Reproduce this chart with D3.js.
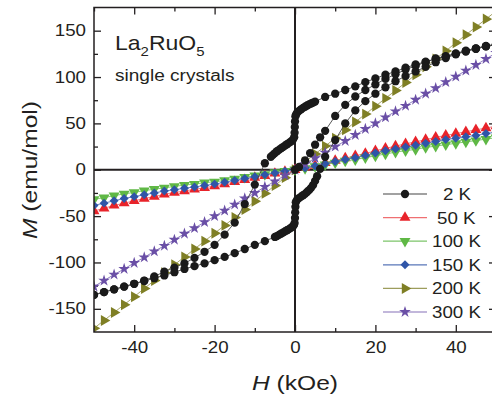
<!DOCTYPE html>
<html><head><meta charset="utf-8">
<script src="https://cdn.jsdelivr.net/npm/d3@7"></script>
<style>
body{margin:0;background:#fff}
svg{display:block}
text{font-family:"Liberation Sans",Arial,Helvetica,sans-serif;fill:#231f20}
</style>
</head><body>
<svg id="c" width="492" height="398"></svg>
<script>
// ---------- data ----------
const hGrid = [-50,-47.5,-45,-42.5,-40,-37.5,-35,-32.5,-30,-27.5,-25,-22.5,-20,-17.5,-15,-12.5,-10,-7.5,-5,-2.5,0,
  2.5,5,7.5,10,12.5,15,17.5,20,22.5,25,27.5,30,32.5,35,37.5,40,42.5,45,47.5,50];
const m50K  = [-44.5,-41.5,-38.5,-36,-33.5,-31,-29,-26.5,-24.5,-23,-21,-19.5,-17.5,-15.5,-13,-11,-8.5,-6.5,-4,-2,0,
  2.5,4.5,7.5,10,12.5,15,17.5,20.5,23,25.5,28,30,32.5,35,37,39,41,43,45,47];
const m100K = [-32,-30,-28,-26,-24.5,-22.5,-21,-19.5,-18,-16.5,-15.5,-14,-13,-11.5,-10,-8,-6.5,-5,-3,-1.5,0,
  1.5,3.5,5.5,7.5,9.5,11,13,15,17,19,20.5,22,24,25.5,27,28.5,30,31.5,33,34.5];
const m150K = [-38.5,-36,-33.5,-31,-29,-27,-25,-23,-21.5,-20,-18.5,-17,-15.5,-13.5,-11.5,-9.5,-7.5,-5.5,-3.5,-1.5,0,
  2,4,6.5,9,11,13,15.5,18,20.5,22.5,24.5,26.5,28.5,30.5,32.5,34,35.5,37,39,40.5];
const m200K = [-171,-162.5,-154,-145.5,-137,-128,-119.5,-111,-102.5,-94,-85.5,-77,-68.5,-60,-51.5,-43,-34,-25.5,-17,-8.5,0,
  8.5,17,25.5,34,43,51.5,60,68.5,77,85.5,94,102.5,111,119.5,128,137,145.5,154,162.5,171];
const m300K = [-126,-119.5,-113,-107,-100.5,-94.5,-88,-82,-75.5,-69,-63,-56.5,-50,-44,-37.5,-31,-25,-18.5,-12.5,-6,0,
  6,12.5,18.5,25,31,37.5,44,50,56.5,63,69,75.5,82,88,94.5,100.5,107,113,119.5,126];

// 2 K: virgin curve, descending branch, ascending branch
const h2KVirgin = [0,1,2.5,3.75,5,6.25,7.5,10,12.5,15,17.5,20,22.5,25,27.5,30,32.5,35,37.5,40,42.5,45,47.5,50];
const m2KVirgin = [0,3,10,18,27,35,42,58,70,79,86,92,98,103,108,112,116,120,122.5,125.5,128.5,131,133.5,135.5];
const h2KDown = [50,47.5,45,42.5,40,37.5,35,32.5,30,27.5,25,22.5,20,17.5,15,12.5,10,7.5,5,4.5,4,3.5,3,2.5,2,1.5,1,0.5,0.25,0.1,
  0,-0.05,-0.1,-0.2,-0.5,-1,-1.5,-2,-2.5,-3,-3.5,-4,-4.5,-5,-5.5,-6,-7.5,-10,-12.5,-15,-17.5,-20,-22.5,-25,-27.5,-30,-32.5,-35,-37.5,-40,-42.5,-45,-47.5,-50];
const m2KDown = [135,133,130.5,128,125,122,119.5,116.5,113.5,110,106,102.5,98.5,94.5,90,86,82,78.5,73.5,72.5,71.5,70.5,69.3,68,66.7,65.2,63.5,61.3,59.5,57.5,
  52,46,40,35,32.5,30.5,29,27.5,26,24.5,23,21.5,20,18,16,14,7,-16,-37,-57,-70,-81,-88.5,-95,-101,-105.5,-110,-115,-119.5,-123,-126,-129,-132,-135];
const h2KUp = [-50,-47.5,-45,-42.5,-40,-37.5,-35,-32.5,-30,-27.5,-25,-22.5,-20,-17.5,-15,-12.5,-10,-7.5,-5,-4.5,-4,-3.5,-3,-2.5,-2,-1.5,-1,-0.5,-0.25,-0.1,
  0,0.05,0.1,0.2,0.5,1,1.5,2,2.5,3,3.5,4,4.5,5,5.5,6.25,7.5,10,12.5,15,17.5,20,22.5,25,27.5,30,32.5,35,37.5,40,42.5,45,47.5,50];
const m2KUp = [-135,-132,-129,-126,-123,-120,-117,-114,-110.5,-107,-104,-101,-97.5,-94,-90,-85.5,-81,-77,-72.5,-71.5,-70.3,-69,-67.8,-66.5,-65.2,-64,-62.5,-61,-59.5,-57.5,
  -52,-46,-40,-35,-32.5,-30.5,-29,-27.5,-26,-24,-22,-19.5,-16.5,-12,-7,1,14,32,50,64,74,82,89,95.5,101,106,111,116,120.5,124.5,127.5,130.5,133,135];

const legendLabels = ["2 K","50 K","100 K","150 K","200 K","300 K"];
const xTicks = [-40,-20,0,20,40];
const xMinor = [-50,-30,-10,10,30,50];
const yTicks = [-150,-100,-50,0,50,100,150];
const yMinor = [-125,-75,-25,25,75,125];

// ---------- layout ----------
const svg = d3.select('#c');
const L = 94, R = 496, T = 7.5, B = 332;
const x = d3.scaleLinear().domain([-50, 50]).range([L, R]);
const y = d3.scaleLinear().domain([-175, 175]).range([B, T]);
const ink = '#231f20';
const SX = 1.17; // horizontal text stretch of the original
const fmt = d => String(d); // plain hyphen-minus as in the original

function stretch(sel, k) {
  sel.each(function () {
    const w = this.getComputedTextLength();
    if (w > 0) { this.setAttribute('textLength', w * k); this.setAttribute('lengthAdjust', 'spacingAndGlyphs'); }
  });
}

svg.append('defs').append('clipPath').attr('id', 'clip')
  .append('rect').attr('x', L).attr('y', T).attr('width', R - L).attr('height', B - T);

// axes
function styleAxis(g) {
  g.attr('color', ink).attr('font-size', 16).attr('font-family', '"Liberation Sans",Arial,sans-serif');
  g.select('.domain').remove();
  g.selectAll('line').attr('stroke-width', 1.3);
}
const gl = svg.append('g').attr('transform', `translate(${L},0)`)
  .call(d3.axisLeft(y).tickValues(yTicks).tickFormat(fmt).tickSizeInner(-7).tickSizeOuter(0).tickPadding(8)).call(styleAxis);
gl.selectAll('text').call(stretch, SX);
svg.append('g').attr('transform', `translate(${L},0)`)
  .call(d3.axisLeft(y).tickValues(yMinor).tickSizeInner(-4).tickSizeOuter(0).tickFormat('')).call(styleAxis);
svg.append('g').attr('transform', `translate(${R},0)`)
  .call(d3.axisRight(y).tickValues(yTicks).tickSizeInner(-7).tickSizeOuter(0).tickFormat('')).call(styleAxis);
svg.append('g').attr('transform', `translate(${R},0)`)
  .call(d3.axisRight(y).tickValues(yMinor).tickSizeInner(-4).tickSizeOuter(0).tickFormat('')).call(styleAxis);
const gb = svg.append('g').attr('transform', `translate(0,${B})`)
  .call(d3.axisBottom(x).tickValues(xTicks).tickFormat(fmt).tickSizeInner(-7).tickSizeOuter(0).tickPadding(10)).call(styleAxis);
gb.selectAll('text').call(stretch, SX);
svg.append('g').attr('transform', `translate(0,${B})`)
  .call(d3.axisBottom(x).tickValues(xMinor).tickSizeInner(-4).tickSizeOuter(0).tickFormat('')).call(styleAxis);
svg.append('g').attr('transform', `translate(0,${T})`)
  .call(d3.axisTop(x).tickValues(xTicks).tickSizeInner(-7).tickSizeOuter(0).tickFormat('')).call(styleAxis);
svg.append('g').attr('transform', `translate(0,${T})`)
  .call(d3.axisTop(x).tickValues(xMinor).tickSizeInner(-4).tickSizeOuter(0).tickFormat('')).call(styleAxis);

// series
const plot = svg.append('g').attr('clip-path', 'url(#clip)');
const line = d3.line().x(d => x(d[0])).y(d => y(d[1]));
const zip = (hs, ms) => hs.map((h, i) => [h, ms[i]]);

const series = [
  { label: legendLabels[1], pts: [zip(hGrid, m50K)],  color: '#e8232a', lc: '#ef6f72', sym: d3.symbolTriangle, size: 52, rot: 0 },
  { label: legendLabels[2], pts: [zip(hGrid, m100K)], color: '#5fb845', lc: '#7cc56a', sym: d3.symbolTriangle, size: 52, rot: 180 },
  { label: legendLabels[3], pts: [zip(hGrid, m150K)], color: '#2f55a8', lc: '#5876b8', sym: d3.symbolSquare, size: 40, rot: 45 },
  { label: legendLabels[4], pts: [zip(hGrid, m200K)], color: '#7f7f25', lc: '#9d9d5c', sym: d3.symbolTriangle, size: 52, rot: 90 },
  { label: legendLabels[5], pts: [zip(hGrid, m300K)], color: '#6a4fa6', lc: '#8570b8', sym: d3.symbolStar, size: 42, rot: 0 },
  { label: legendLabels[0], pts: [zip(h2KVirgin, m2KVirgin), zip(h2KDown, m2KDown), zip(h2KUp, m2KUp)], color: '#1a1a1a', lc: '#444', sym: d3.symbolCircle, size: 54, rot: 0 }
];

// zero lines
plot.append('line').attr('x1', x(0)).attr('x2', x(0)).attr('y1', T).attr('y2', B).attr('stroke', ink).attr('stroke-width', 2);
plot.append('line').attr('x1', L).attr('x2', R).attr('y1', y(0)).attr('y2', y(0)).attr('stroke', ink).attr('stroke-width', 2);

series.forEach(s => {
  const g = plot.append('g');
  s.pts.forEach(p => {
    g.append('path').attr('d', line(p)).attr('fill', 'none').attr('stroke', s.lc).attr('stroke-width', 0.9);
  });
  const sym = d3.symbol().type(s.sym).size(s.size)();
  s.pts.forEach(p => {
    g.selectAll(null).data(p).join('path')
      .attr('d', sym)
      .attr('transform', d => `translate(${x(d[0])},${y(d[1])}) rotate(${s.rot})`)
      .attr('fill', s.color);
  });
});

// frame
svg.append('rect').attr('x', L).attr('y', T).attr('width', R - L).attr('height', B - T)
  .attr('fill', 'none').attr('stroke', ink).attr('stroke-width', 1.5);

// legend
const legOrder = [5, 0, 1, 2, 3, 4];
const legX = [443, 437, 432, 432, 432, 432];
legOrder.forEach((si, i) => {
  const s = series[si];
  const cy = 194 + i * 23.6;
  const g = svg.append('g');
  g.append('line').attr('x1', 383).attr('x2', 427).attr('y1', cy).attr('y2', cy).attr('stroke', s.lc).attr('stroke-width', 1.2);
  g.append('path').attr('d', d3.symbol().type(s.sym).size(s.size)()).attr('transform', `translate(405,${cy}) rotate(${s.rot})`).attr('fill', s.color);
  g.append('text').attr('x', legX[i]).attr('y', cy + 6).attr('font-size', 16).text(s.label).call(stretch, SX);
});

// annotation
const ann = svg.append('g').attr('transform', 'translate(115,50) scale(1.15,1)');
const t1 = ann.append('text').attr('x', 0).attr('y', 0).attr('font-size', 20);
t1.append('tspan').text('La');
t1.append('tspan').attr('font-size', 13).attr('dy', 6).text('2');
t1.append('tspan').attr('dy', -6).text('RuO');
t1.append('tspan').attr('font-size', 13).attr('dy', 6).text('5');
svg.append('text').attr('x', 115).attr('y', 81).attr('font-size', 16).text('single crystals').call(stretch, 1.19);

// axis titles
const xt = svg.append('text').attr('x', 295).attr('y', 390).attr('font-size', 21).attr('text-anchor', 'middle');
xt.append('tspan').attr('font-style', 'italic').text('H');
xt.append('tspan').text(' (kOe)');
xt.call(stretch, SX);
const yt = svg.append('text').attr('transform', 'translate(37,170) rotate(-90)').attr('font-size', 21).attr('text-anchor', 'middle');
yt.append('tspan').attr('font-style', 'italic').text('M');
yt.append('tspan').text(' (emu/mol)');
yt.call(stretch, SX);
</script>
</body></html>
